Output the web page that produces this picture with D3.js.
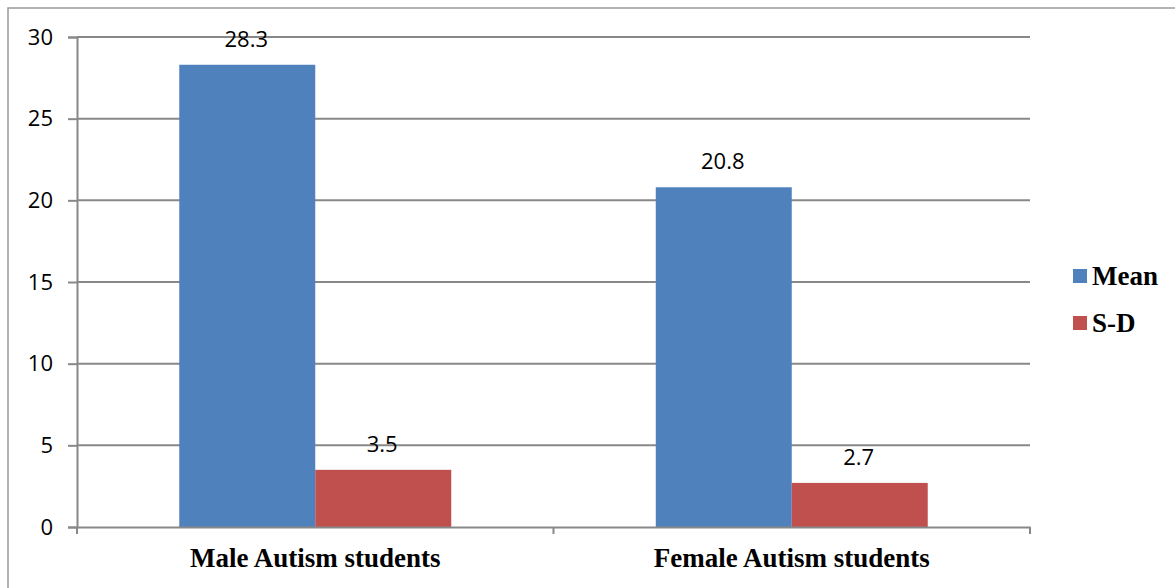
<!DOCTYPE html>
<html>
<head>
<meta charset="utf-8">
<script src="https://cdn.jsdelivr.net/npm/d3@7"></script>
<style>
  html, body { margin: 0; padding: 0; background: #fff; }
  svg { display: block; }
</style>
</head>
<body>
<svg id="chart" width="1175" height="588"></svg>
<script>
// Mean and standard deviation scores by student group
const categories = ["Male Autism students", "Female Autism students"];
const seriesNames = ["Mean", "S-D"];
const meanValues = [28.3, 20.8];
const sdValues = [3.5, 2.7];
const yTicks = [0, 5, 10, 15, 20, 25, 30];

const seriesColors = { "Mean": "#4F81BD", "S-D": "#C0504D" };
const gridColor = "#888888";

const svg = d3.select("#chart");
const W = 1175, H = 588;
const plot = { left: 77, right: 1030, top: 37, bottom: 527 };

// outer frame (top and left edges)
svg.append("path")
  .attr("d", `M8,${H} L8,8 L${W},8`)
  .attr("fill", "none")
  .attr("stroke", "#9a9a9a")
  .attr("stroke-width", 1.5);

const y = d3.scaleLinear().domain([0, 30]).range([plot.bottom, plot.top]);
const x0 = d3.scaleBand().domain(categories).range([plot.left, plot.right]).padding(0);
const x1 = d3.scaleBand().domain(seriesNames).range([0, x0.bandwidth()])
  .paddingInner(0).paddingOuter(0.752);

// horizontal gridlines
svg.append("g")
  .selectAll("line")
  .data(yTicks.filter(t => t > 0))
  .join("line")
  .attr("x1", plot.left).attr("x2", plot.right)
  .attr("y1", d => y(d)).attr("y2", d => y(d))
  .attr("stroke", gridColor).attr("stroke-width", 2);

// y axis
const yAxis = svg.append("g")
  .attr("transform", `translate(${plot.left},0)`)
  .call(d3.axisLeft(y).tickValues(yTicks).tickSize(9).tickPadding(15).tickFormat(d3.format("d")));
yAxis.select(".domain").attr("stroke", gridColor).attr("stroke-width", 2);
yAxis.selectAll(".tick line").attr("stroke", gridColor).attr("stroke-width", 2);
yAxis.selectAll(".tick text")
  .attr("font-family", "'Open Sans', sans-serif")
  .attr("font-size", 22)
  .attr("fill", "#000");

// bars
const rows = categories.map((c, i) => ({ cat: c, vals: [
  { key: "Mean", value: meanValues[i] },
  { key: "S-D", value: sdValues[i] }
]}));

const groups = svg.append("g").selectAll("g")
  .data(rows)
  .join("g")
  .attr("transform", d => `translate(${x0(d.cat)},0)`);

groups.selectAll("rect")
  .data(d => d.vals)
  .join("rect")
  .attr("x", d => x1(d.key))
  .attr("width", x1.bandwidth())
  .attr("y", d => y(d.value))
  .attr("height", d => y(0) - y(d.value))
  .attr("fill", d => seriesColors[d.key]);

// value labels
groups.selectAll("text")
  .data(d => d.vals)
  .join("text")
  .attr("x", d => x1(d.key) + x1.bandwidth() / 2 - 1)
  .attr("y", d => y(d.value) - 18)
  .attr("text-anchor", "middle")
  .attr("font-family", "'Open Sans', sans-serif")
  .attr("font-size", 22)
  .attr("fill", "#000")
  .text(d => d.value.toFixed(1));

// x axis
const xAxis = svg.append("g")
  .attr("transform", `translate(0,${plot.bottom})`)
  .call(d3.axisBottom(x0).tickSize(0).tickPadding(0).tickFormat(""));
xAxis.select(".domain").attr("stroke", gridColor).attr("stroke-width", 2);
xAxis.selectAll(".tick").remove();

// category boundary ticks
const bounds = [plot.left, plot.left + x0.step(), plot.right];
xAxis.append("g").selectAll("line")
  .data(bounds)
  .join("line")
  .attr("x1", d => d).attr("x2", d => d)
  .attr("y1", 0).attr("y2", 7)
  .attr("stroke", gridColor).attr("stroke-width", 2);

// category labels
svg.append("g").selectAll("text")
  .data(categories)
  .join("text")
  .attr("x", d => x0(d) + x0.bandwidth() / 2)
  .attr("y", 567)
  .attr("text-anchor", "middle")
  .attr("font-family", "'Liberation Serif', 'Times New Roman', serif")
  .attr("font-weight", "bold")
  .attr("font-size", 27)
  .attr("fill", "#000")
  .text(d => d);

// legend
const legend = svg.append("g").attr("transform", "translate(1073,269)");
const items = legend.selectAll("g")
  .data(seriesNames)
  .join("g")
  .attr("transform", (d, i) => `translate(0,${i * 47})`);
items.append("rect")
  .attr("width", 14).attr("height", 14)
  .attr("fill", d => seriesColors[d]);
items.append("text")
  .attr("x", 19).attr("y", 16)
  .attr("font-family", "'Liberation Serif', 'Times New Roman', serif")
  .attr("font-weight", "bold")
  .attr("font-size", 27)
  .attr("fill", "#000")
  .text(d => d);
</script>
</body>
</html>
